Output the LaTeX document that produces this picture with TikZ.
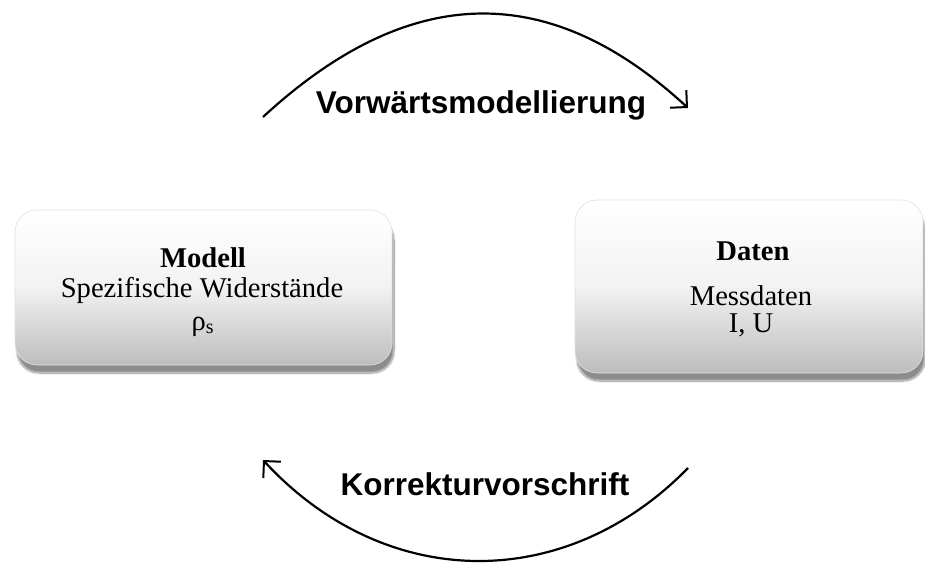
\documentclass[tikz,border=0pt]{standalone}
\usepackage{fontspec}
\setmainfont{Liberation Serif}
\newfontfamily\arialfont{Liberation Sans}
\usetikzlibrary{arrows.meta,shadows.blur}
\begin{document}
\begin{tikzpicture}[x=1pt,y=-1pt,
  box/.style={rectangle, rounded corners=22pt, draw=black!12, line width=0.6pt,
    top color=white, bottom color=black!26, middle color=white!95!black,
    blur shadow={shadow xshift=2pt, shadow yshift=-8pt, shadow blur steps=14, shadow opacity=45},
    inner sep=0pt},
  serif/.style={font=\fontsize{28.6}{34}\selectfont, anchor=base, inner sep=0pt},
  sbold/.style={font=\fontsize{28.6}{34}\selectfont\bfseries, anchor=base, inner sep=0pt},
  label/.style={font=\arialfont\fontsize{31.5}{36}\selectfont\bfseries, anchor=base, inner sep=0pt},
  arc/.style={line width=2.2pt, -{Straight Barb[length=12pt,width=24pt,line width=2pt]}}
]
\useasboundingbox (0,0) rectangle (925,563);

\node[box, minimum width=377pt, minimum height=155pt] (modell) at (203.5,287.5) {};
\node[box, minimum width=348pt, minimum height=173pt] (daten) at (749,286.5) {};

\node[sbold] (m1) at (203,267) {Modell};
\node[serif] (m2) at (202,297) {Spezifische Widerstände};
\node[serif] (m3) at (203,330) {ρ\textsubscript{s}};

\node[sbold] (d1) at (753,260) {Daten};
\node[serif] (d2) at (751,305) {Messdaten};
\node[serif] (d3) at (751,332) {I, U};

\node[label] (vw) at (481,113) {Vorwärtsmodellierung};
\node[label] (kv) at (485,495) {Korrekturvorschrift};

\coordinate (a1) at (263,117);
\coordinate (a2) at (688,108);
\coordinate (b1) at (688,468);
\coordinate (b2) at (263,460);

\draw[arc] (a1) .. controls (405,-14) and (545,-24) .. (a2);
\draw[arc] (b1) .. controls (565,594) and (385,592) .. (b2);
\end{tikzpicture}
\end{document}
